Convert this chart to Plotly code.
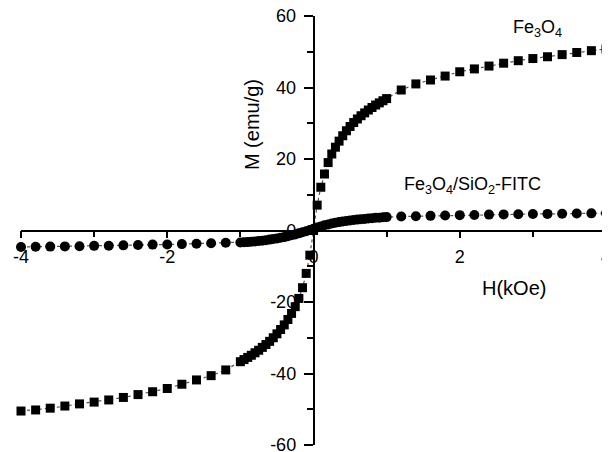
import plotly.graph_objects as go

# Applied field H (kOe)
h_values = [
    -4.0, -3.8, -3.6, -3.4, -3.2, -3.0, -2.8, -2.6, -2.4, -2.2, -2.0, -1.8, -1.6, -1.4, -1.2,
    -1.0, -0.95, -0.9, -0.85, -0.8, -0.75, -0.7, -0.65, -0.6, -0.55, -0.5, -0.45, -0.4, -0.35,
    -0.3, -0.25, -0.2, -0.15, -0.1, -0.05, 0.0, 0.05, 0.1, 0.15, 0.2, 0.25, 0.3, 0.35, 0.4,
    0.45, 0.5, 0.55, 0.6, 0.65, 0.7, 0.75, 0.8, 0.85, 0.9, 0.95, 1.0,
    1.2, 1.4, 1.6, 1.8, 2.0, 2.2, 2.4, 2.6, 2.8, 3.0, 3.2, 3.4, 3.6, 3.8, 4.0,
]

# Magnetization M (emu/g) of Fe3O4
m_fe3o4 = [
    -50.5, -50.2, -49.7, -49.1, -48.5, -48.0, -47.4, -46.7, -45.9, -45.1, -44.2, -43.0, -41.8, -40.6, -39.0,
    -36.7, -36.1, -35.5, -34.9, -34.2, -33.5, -32.7, -31.9, -31.0, -30.0, -28.9, -27.7, -26.4, -24.9,
    -23.2, -21.3, -19.0, -16.0, -12.0, -6.9, 0.0, 7.1, 12.1, 15.8, 19.0, 21.4, 23.3, 25.0, 26.5,
    27.9, 29.1, 30.2, 31.2, 32.1, 32.9, 33.7, 34.4, 35.1, 35.7, 36.3, 36.9,
    39.3, 41.0, 42.1, 43.2, 44.4, 45.2, 46.0, 46.8, 47.5, 48.1, 48.6, 49.2, 49.8, 50.3, 50.8,
]

# Magnetization M (emu/g) of Fe3O4/SiO2-FITC
m_fitc = [
    -4.6, -4.55, -4.5, -4.45, -4.4, -4.3, -4.25, -4.15, -4.05, -3.95, -3.9, -3.8, -3.7, -3.55, -3.45,
    -3.35, -3.3, -3.25, -3.15, -3.05, -2.95, -2.85, -2.7, -2.55, -2.4, -2.25, -2.05, -1.85, -1.6,
    -1.35, -1.1, -0.8, -0.5, -0.2, 0.15, 0.5, 0.85, 1.15, 1.45, 1.7, 1.95, 2.15, 2.35, 2.5,
    2.65, 2.8, 2.95, 3.05, 3.15, 3.25, 3.35, 3.45, 3.55, 3.6, 3.7, 3.75,
    3.9, 4.0, 4.1, 4.2, 4.3, 4.35, 4.45, 4.5, 4.55, 4.6, 4.65, 4.7, 4.75, 4.8, 4.85,
]

x_ticks = [-4, -2, 0, 2, 4]
x_tick_labels = ["-4", "-2", "0", "2", "4"]
y_ticks = [-60, -40, -20, 0, 20, 40, 60]
y_tick_labels = ["-60", "-40", "-20", "0", "20", "40", "60"]

FONT = "Liberation Sans, Arial, sans-serif"

fig = go.Figure()
fig.add_trace(go.Scatter(
    x=h_values, y=m_fitc, mode="lines+markers", cliponaxis=False,
    line=dict(color="#555555", width=1.2, dash="dot"),
    marker=dict(symbol="circle", size=10, color="black"),
    showlegend=False,
))
fig.add_trace(go.Scatter(
    x=h_values, y=m_fe3o4, mode="lines+markers", cliponaxis=False,
    line=dict(color="#555555", width=1.2, dash="dot"),
    marker=dict(symbol="square", size=9, color="black"),
    showlegend=False,
))

axis_common = dict(
    showline=True, linecolor="black", linewidth=1.5,
    showgrid=False, zeroline=False, ticks="outside", tickcolor="black",
    tickwidth=1.5, automargin=False, anchor="free", position=0.5,
    ticklabeloverflow="allow",
    tickfont=dict(family=FONT, size=18, color="black"),
)

# the page body has an 8px default margin, so the margins below compensate for it
fig.update_layout(
    width=610, height=452,
    margin=dict(l=13, r=12, t=8, b=15),
    paper_bgcolor="white", plot_bgcolor="white",
    xaxis=dict(range=[-4, 4], tickvals=x_ticks, ticktext=x_tick_labels, ticklen=7,
               minor=dict(dtick=1, ticks="outside", ticklen=6, tickcolor="black", tickwidth=1.5),
               ticklabelstandoff=3, **axis_common),
    yaxis=dict(range=[-60, 60], tickvals=y_ticks, ticktext=y_tick_labels, ticklen=9,
               minor=dict(dtick=10, ticks="outside", ticklen=6, tickcolor="black", tickwidth=1.5),
               ticklabelstandoff=4, **axis_common),
    annotations=[
        dict(x=2.74, y=-16.1, xref="x", yref="y", text="H(kOe)", showarrow=False,
             font=dict(family=FONT, size=20, color="black")),
        dict(x=-0.84, y=29.5, xref="x", yref="y", text="M (emu/g)", showarrow=False,
             textangle=-90, font=dict(family=FONT, size=20, color="black")),
        dict(x=3.07, y=56.5, xref="x", yref="y", text="Fe<sub>3</sub>O<sub>4</sub>",
             showarrow=False, font=dict(family=FONT, size=18, color="black")),
        dict(x=2.17, y=12.5, xref="x", yref="y",
             text="Fe<sub>3</sub>O<sub>4</sub>/SiO<sub>2</sub>-FITC",
             showarrow=False, font=dict(family=FONT, size=18, color="black")),
    ],
)

fig.write_html("out.html")
